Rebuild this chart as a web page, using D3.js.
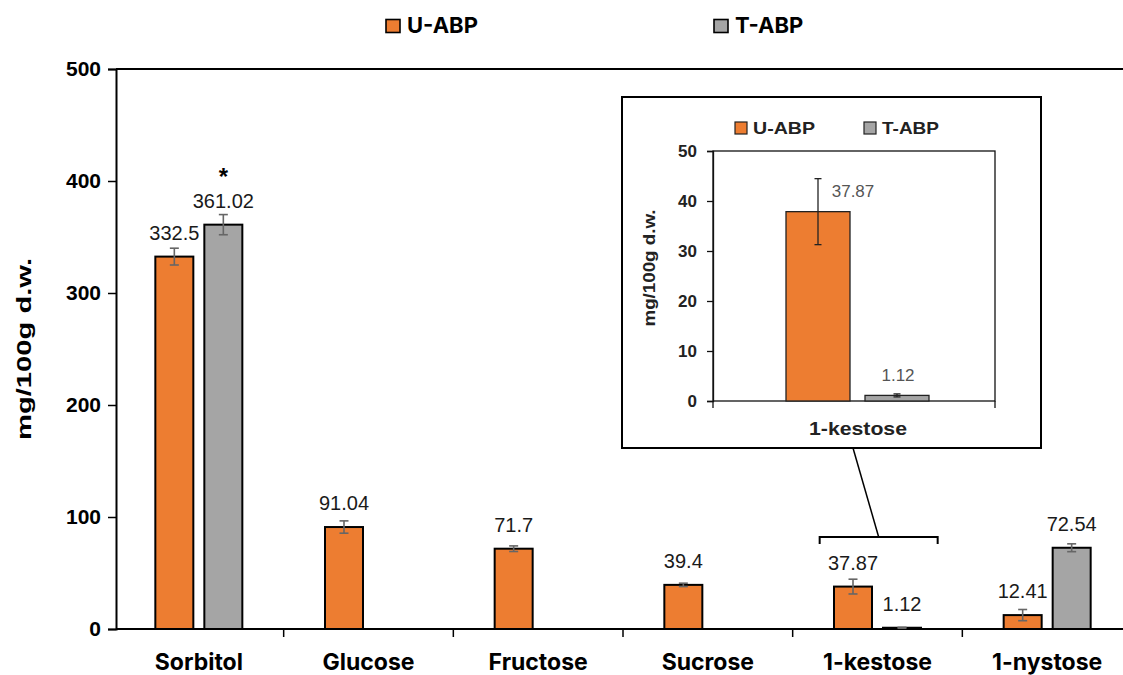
<!DOCTYPE html>
<html><head><meta charset="utf-8">
<script src="https://cdn.jsdelivr.net/npm/d3@7"></script>
<style>body{margin:0;background:#fff}svg{display:block}</style>
</head><body>
<svg id="c" width="1123" height="675"></svg>
<script>
const categories = ["Sorbitol","Glucose","Fructose","Sucrose","1-kestose","1-nystose"];
const seriesNames = ["U-ABP","T-ABP"];
const uValues = [332.5, 91.04, 71.7, 39.4, 37.87, 12.41];
const tValues = [361.02, null, null, null, 1.12, 72.54];
const uErr = [7.5, 5.5, 2.5, 1.5, 6.6, 5];
const tErr = [9, null, null, null, 0.4, 3.5];
const yTicks = [0,100,200,300,400,500];
const insetCategory = ["1-kestose"];
const insetU = [37.87];
const insetT = [1.12];
const insetUErr = [6.6];
const insetTErr = [0.3];
const insetTicks = [0,10,20,30,40,50];
const colors = {"U-ABP":"#ED7D31","T-ABP":"#A5A5A5"};

const svg = d3.select("#c");
const boldFont = "'Liberation Sans', Arial, sans-serif";
const catFont = "Inter, 'Liberation Sans', sans-serif";

// main scales
const x = d3.scaleBand().domain(categories).range([114, 1132]).padding(0);
const y = d3.scaleLinear().domain([0,500]).range([629, 69]);
const barW = 38, off = 24.5;

// top border
svg.append("line").attr("x1",116).attr("x2",1132).attr("y1",y(500)).attr("y2",y(500))
  .attr("stroke","#000").attr("stroke-width",2);

// y axis
const ya = svg.append("g").attr("transform","translate(116,0)")
  .call(d3.axisLeft(y).tickValues(yTicks).tickSize(8).tickPadding(7));
ya.select(".domain").attr("stroke","#000").attr("stroke-width",2);
ya.selectAll(".tick line").attr("stroke","#000").attr("stroke-width",1.5);
ya.selectAll("text").attr("font-family",boldFont).attr("font-weight","bold").attr("font-size",21).attr("fill","#000");

// x axis
const xa = svg.append("g").attr("transform","translate(0,629)")
  .call(d3.axisBottom(x).tickSize(0).tickPadding(25));
xa.select(".domain").remove();
xa.selectAll("text").attr("font-family",catFont).attr("font-weight","bold").attr("font-size",23).attr("fill","#000");
svg.append("line").attr("x1",116).attr("x2",1132).attr("y1",629).attr("y2",629).attr("stroke","#000").attr("stroke-width",2);
// boundary ticks
svg.append("g").selectAll("line").data(categories.slice(1)).join("line")
  .attr("x1",d=>x(d)).attr("x2",d=>x(d)).attr("y1",629).attr("y2",637)
  .attr("stroke","#000").attr("stroke-width",1.5);

// bars
const rows = [];
categories.forEach((c,i)=>{
  if(uValues[i]!=null) rows.push({c, s:"U-ABP", v:uValues[i], e:uErr[i], dx:-off});
  if(tValues[i]!=null) rows.push({c, s:"T-ABP", v:tValues[i], e:tErr[i], dx:off});
});
const cx = d => x(d.c) + x.bandwidth()/2 + d.dx;
svg.append("g").selectAll("rect").data(rows).join("rect")
  .attr("x",d=>cx(d)-barW/2).attr("width",barW)
  .attr("y",d=>y(d.v)).attr("height",d=>y(0)-y(d.v))
  .attr("fill",d=>colors[d.s]).attr("stroke","#000").attr("stroke-width",2);
// error bars
const eb = svg.append("g").attr("stroke","#666").attr("stroke-width",1.6);
rows.forEach(d=>{
  const X = cx(d);
  eb.append("line").attr("x1",X).attr("x2",X).attr("y1",y(d.v+d.e)).attr("y2",y(d.v-d.e));
  eb.append("line").attr("x1",X-4.5).attr("x2",X+4.5).attr("y1",y(d.v+d.e)).attr("y2",y(d.v+d.e));
  eb.append("line").attr("x1",X-4.5).attr("x2",X+4.5).attr("y1",y(d.v-d.e)).attr("y2",y(d.v-d.e));
});
// labels
svg.append("g").selectAll("text").data(rows).join("text")
  .attr("x",d=>cx(d)).attr("y",d=>y(d.v)-17).attr("text-anchor","middle")
  .attr("font-family",boldFont).attr("font-size",20).attr("fill","#1a1a1a")
  .text(d=>String(d.v));
// significance star
svg.append("text").attr("x",x("Sorbitol")+x.bandwidth()/2+off).attr("y",y(tValues[0])-40)
  .attr("text-anchor","middle")
  .attr("font-family",boldFont).attr("font-size",24).attr("font-weight","bold").text("*");

// y title
svg.append("text").attr("transform","translate(26,349) rotate(-90)").attr("text-anchor","middle")
  .attr("dominant-baseline","middle")
  .attr("font-family",boldFont).attr("font-weight","bold").attr("font-size",20)
  .attr("textLength",182).attr("lengthAdjust","spacingAndGlyphs").text("mg/100g d.w.");

// legend
const leg = [{s:"U-ABP",x:386},{s:"T-ABP",x:714}];
leg.forEach(l=>{
  svg.append("rect").attr("x",l.x).attr("y",19.5).attr("width",14).attr("height",13)
    .attr("fill",colors[l.s]).attr("stroke","#000").attr("stroke-width",1.6);
  svg.append("text").attr("x",l.x+21).attr("y",33).attr("font-family",catFont).attr("font-weight","bold")
    .attr("font-size",22).text(l.s);
});

// bracket + callout
const kx = x("1-kestose");
svg.append("path").attr("d",`M${kx+27},544 V537 H${kx+145} V544`).attr("fill","none").attr("stroke","#000").attr("stroke-width",2);
svg.append("line").attr("x1",kx+86).attr("y1",537).attr("x2",853).attr("y2",448).attr("stroke","#000").attr("stroke-width",1.5);

// inset
const ins = svg.append("g");
ins.append("rect").attr("x",622).attr("y",97).attr("width",419).attr("height",351).attr("fill","#fff").attr("stroke","#000").attr("stroke-width",2);
const ix = d3.scaleBand().domain(insetCategory).range([713,995]);
const iy = d3.scaleLinear().domain([0,50]).range([401,151]);
ins.append("rect").attr("x",713).attr("y",151).attr("width",282).attr("height",250).attr("fill","none").attr("stroke","#111").attr("stroke-width",1.3);
const iya = ins.append("g").attr("transform","translate(713,0)").call(d3.axisLeft(iy).tickValues(insetTicks).tickSize(6).tickPadding(10));
iya.select(".domain").attr("stroke","#111").attr("stroke-width",1.3);
iya.selectAll(".tick line").attr("stroke","#111").attr("stroke-width",1.3);
iya.selectAll("text").attr("font-family",boldFont).attr("font-weight","bold").attr("font-size",17).attr("fill","#222");
const ixa = ins.append("g").attr("transform","translate(0,401)").call(d3.axisBottom(ix).tickSize(0).tickPadding(21));
ixa.select(".domain").remove();
ixa.selectAll("text").attr("font-family",boldFont).attr("font-weight","bold").attr("font-size",19).attr("fill","#222")
  .attr("dx",4).attr("textLength",98).attr("lengthAdjust","spacingAndGlyphs");
ins.append("line").attr("x1",713).attr("x2",713).attr("y1",401).attr("y2",408).attr("stroke","#111").attr("stroke-width",1.3);
ins.append("line").attr("x1",995).attr("x2",995).attr("y1",401).attr("y2",408).attr("stroke","#111").attr("stroke-width",1.3);
const irows = [{s:"U-ABP",v:insetU[0],e:insetUErr[0],dx:-39},{s:"T-ABP",v:insetT[0],e:insetTErr[0],dx:40}];
const icx = d => ix(insetCategory[0]) + ix.bandwidth()/2 + 3 + d.dx;
ins.append("g").selectAll("rect").data(irows).join("rect")
  .attr("x",d=>icx(d)-32).attr("width",64).attr("y",d=>iy(d.v)).attr("height",d=>iy(0)-iy(d.v))
  .attr("fill",d=>colors[d.s]).attr("stroke","#222").attr("stroke-width",1.3);
irows.forEach(d=>{
  const X = icx(d);
  ins.append("line").attr("x1",X).attr("x2",X).attr("y1",iy(d.v+d.e)).attr("y2",iy(d.v-d.e)).attr("stroke","#222").attr("stroke-width",1.3);
  ins.append("line").attr("x1",X-3.5).attr("x2",X+3.5).attr("y1",iy(d.v+d.e)).attr("y2",iy(d.v+d.e)).attr("stroke","#222").attr("stroke-width",1.3);
  ins.append("line").attr("x1",X-3.5).attr("x2",X+3.5).attr("y1",iy(d.v-d.e)).attr("y2",iy(d.v-d.e)).attr("stroke","#222").attr("stroke-width",1.3);
});
ins.append("text").attr("x",icx(irows[0])+35).attr("y",iy(insetU[0])-15).attr("text-anchor","middle")
  .attr("font-family",boldFont).attr("font-size",17).attr("fill","#555").text(String(insetU[0]));
ins.append("text").attr("x",icx(irows[1])+1).attr("y",iy(insetT[0])-14).attr("text-anchor","middle")
  .attr("font-family",boldFont).attr("font-size",17).attr("fill","#555").text(String(insetT[0]));
ins.append("text").attr("transform","translate(651,268) rotate(-90)").attr("text-anchor","middle")
  .attr("dominant-baseline","middle")
  .attr("font-family",boldFont).attr("font-weight","bold").attr("font-size",16).attr("fill","#222")
  .attr("textLength",117).attr("lengthAdjust","spacingAndGlyphs").text("mg/100g d.w.");
const ileg = [{s:"U-ABP",x:735},{s:"T-ABP",x:864}];
ileg.forEach(l=>{
  ins.append("rect").attr("x",l.x).attr("y",122).attr("width",12).attr("height",12)
    .attr("fill",colors[l.s]).attr("stroke","#222").attr("stroke-width",1.2);
  ins.append("text").attr("x",l.x+18).attr("y",134).attr("font-family",boldFont).attr("font-weight","bold")
    .attr("font-size",17).attr("fill","#222").attr("textLength",l.s==="U-ABP"?62:57)
    .attr("lengthAdjust","spacingAndGlyphs").text(l.s);
});
</script>
</body></html>
